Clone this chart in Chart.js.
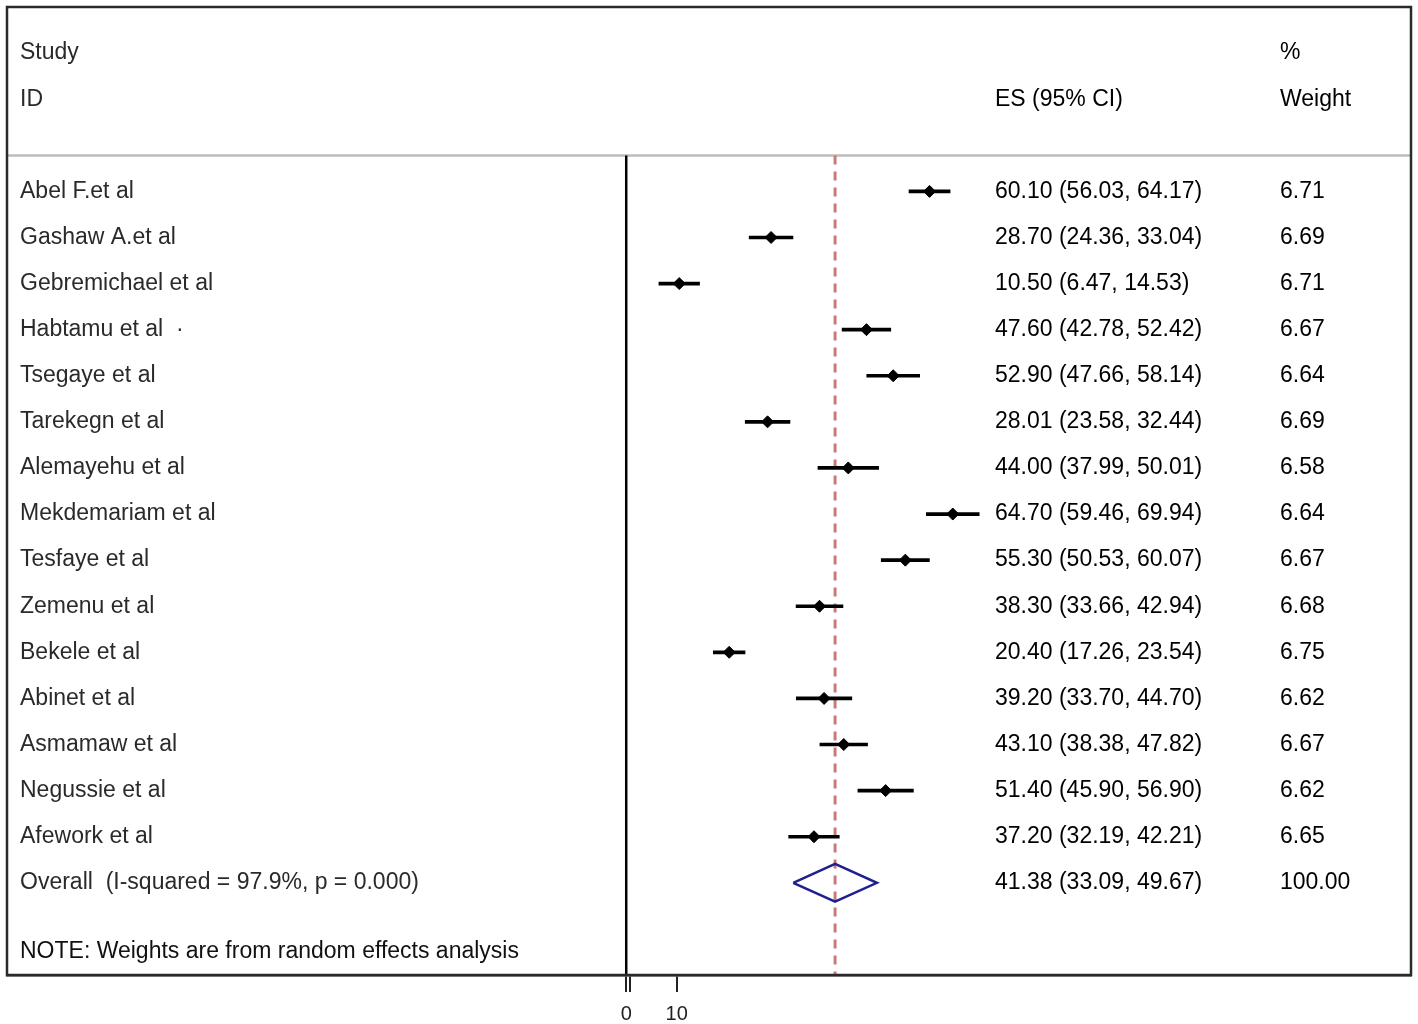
<!DOCTYPE html>
<html>
<head>
<meta charset="utf-8">
<title>Forest plot</title>
<script src="https://cdn.jsdelivr.net/npm/chart.js@4.4.1/dist/chart.umd.min.js"></script>
<style>
    body { margin: 0; background: #fff; }
    canvas { display: block; }
</style>
</head>
<body>
<canvas id="forest-chart" width="1418" height="1024"></canvas>
<script>
// Study data
const studies = ['Abel F.et al', 'Gashaw A.et al', 'Gebremichael et al', 'Habtamu et al  \u00b7', 'Tsegaye et al',
    'Tarekegn et al', 'Alemayehu et al', 'Mekdemariam et al', 'Tesfaye et al', 'Zemenu et al',
    'Bekele et al', 'Abinet et al', 'Asmamaw et al', 'Negussie et al', 'Afework et al'];
const es = [60.10, 28.70, 10.50, 47.60, 52.90, 28.01, 44.00, 64.70, 55.30, 38.30, 20.40, 39.20, 43.10, 51.40, 37.20];
const ciLow = [56.03, 24.36, 6.47, 42.78, 47.66, 23.58, 37.99, 59.46, 50.53, 33.66, 17.26, 33.70, 38.38, 45.90, 32.19];
const ciHigh = [64.17, 33.04, 14.53, 52.42, 58.14, 32.44, 50.01, 69.94, 60.07, 42.94, 23.54, 44.70, 47.82, 56.90, 42.21];
const weights = [6.71, 6.69, 6.71, 6.67, 6.64, 6.69, 6.58, 6.64, 6.67, 6.68, 6.75, 6.62, 6.67, 6.62, 6.65];

const overallLabel = 'Overall  (I-squared = 97.9%, p = 0.000)';
const overall = [41.38, 33.09, 49.67];   // ES, lower, upper
const overallWeight = 100.00;
const noteText = 'NOTE: Weights are from random effects analysis';

const tickValues = [0, 0.8, 10];
const tickLabels = ['0', '', '10'];

// row positions (y scale units, one unit per study row)
const overallRow = studies.length;
const noteRow = studies.length + 1.5;
const headerRows = [-3, -2];
const separatorRow = -0.78;

const textFont = '23px "Liberation Sans", Arial, sans-serif';
const numFont = '23px "Liberation Sans", Arial, sans-serif';

// Frame, header separator and all the text columns
const forestText = {
    id: 'forestText',
    beforeDatasetsDraw(chart) {
        const { ctx, chartArea } = chart;
        const y = chart.scales.y;
        ctx.save();
        ctx.strokeStyle = '#bdbdbd';
        ctx.lineWidth = 2.5;
        ctx.beginPath();
        ctx.moveTo(chartArea.left, y.getPixelForValue(separatorRow));
        ctx.lineTo(chartArea.right, y.getPixelForValue(separatorRow));
        ctx.stroke();
        ctx.restore();
    },
    afterDraw(chart) {
        const { ctx, chartArea } = chart;
        const y = chart.scales.y;
        const colStudy = chartArea.left + 13;
        const colEs = chartArea.left + 988;
        const colWeight = chartArea.left + 1273;

        ctx.save();
        ctx.strokeStyle = '#2a2a2a';
        ctx.lineWidth = 2.5;
        ctx.strokeRect(chartArea.left, chartArea.top, chartArea.width, chartArea.height);

        ctx.textBaseline = 'middle';
        ctx.textAlign = 'left';

        // headers
        ctx.font = textFont;
        ctx.fillStyle = '#2a2a2a';
        ctx.fillText('Study', colStudy, y.getPixelForValue(headerRows[0]));
        ctx.fillText('ID', colStudy, y.getPixelForValue(headerRows[1]));
        ctx.fillStyle = '#000';
        ctx.fillText('ES (95% CI)', colEs, y.getPixelForValue(headerRows[1]));
        ctx.fillText('%', colWeight, y.getPixelForValue(headerRows[0]));
        ctx.fillText('Weight', colWeight, y.getPixelForValue(headerRows[1]));

        // study rows
        studies.forEach((name, i) => {
            const py = y.getPixelForValue(i);
            ctx.font = textFont;
            ctx.fillStyle = '#2a2a2a';
            ctx.fillText(name, colStudy, py);
            ctx.font = numFont;
            ctx.fillStyle = '#000';
            ctx.fillText(`${es[i].toFixed(2)} (${ciLow[i].toFixed(2)}, ${ciHigh[i].toFixed(2)})`, colEs, py);
            ctx.fillText(weights[i].toFixed(2), colWeight, py);
        });

        // overall row
        const oy = y.getPixelForValue(overallRow);
        ctx.font = textFont;
        ctx.fillStyle = '#2a2a2a';
        ctx.fillText(overallLabel, colStudy, oy);
        ctx.font = numFont;
        ctx.fillStyle = '#000';
        ctx.fillText(`${overall[0].toFixed(2)} (${overall[1].toFixed(2)}, ${overall[2].toFixed(2)})`, colEs, oy);
        ctx.fillText(overallWeight.toFixed(2), colWeight, oy);

        // note
        ctx.font = textFont;
        ctx.fillStyle = '#111';
        ctx.fillText(noteText, colStudy, y.getPixelForValue(noteRow));
        ctx.restore();
    }
};

const rows = studies.map((s, i) => i);

new Chart(document.getElementById('forest-chart'), {
    type: 'scatter',
    data: {
        datasets: [
            {
                // point estimates
                data: rows.map(i => ({ x: es[i], y: i })),
                pointStyle: 'rectRot',
                pointRadius: 6,
                backgroundColor: '#000',
                borderColor: '#000',
                borderWidth: 1,
                order: 0
            },
            {
                // confidence intervals as thin floating bars
                type: 'bar',
                indexAxis: 'y',
                data: rows.map(i => ({ y: i, x: [ciLow[i], ciHigh[i]] })),
                backgroundColor: '#000',
                barThickness: 3,
                order: 1
            },
            {
                // overall diamond
                data: [
                    { x: overall[1], y: overallRow },
                    { x: overall[0], y: overallRow - 0.41 },
                    { x: overall[2], y: overallRow },
                    { x: overall[0], y: overallRow + 0.41 },
                    { x: overall[1], y: overallRow }
                ],
                showLine: true,
                borderColor: '#1f1f8f',
                borderWidth: 2.5,
                pointRadius: 0,
                fill: false,
                order: 2
            },
            {
                // overall effect reference line
                data: [{ x: overall[0], y: separatorRow }, { x: overall[0], y: noteRow + 0.5 }],
                showLine: true,
                borderColor: '#c67a7a',
                borderWidth: 3,
                borderDash: [9, 7],
                pointRadius: 0,
                order: 3
            },
            {
                // null line
                data: [{ x: 0, y: separatorRow }, { x: 0, y: noteRow + 0.5 }],
                showLine: true,
                borderColor: '#000',
                borderWidth: 2.5,
                pointRadius: 0,
                order: 4
            }
        ]
    },
    options: {
        responsive: false,
        animation: false,
        layout: { padding: { left: 5, right: 5, top: 5, bottom: 0 } },
        plugins: {
            legend: { display: false },
            tooltip: { enabled: false }
        },
        scales: {
            x: {
                type: 'linear',
                min: -122.7,
                max: 155.5,
                offset: false,
                afterBuildTicks: (scale) => {
                    scale.ticks = tickValues.map(v => ({ value: v }));
                },
                afterFit: (scale) => { scale.height = 49; },
                ticks: {
                    autoSkip: false,
                    maxRotation: 0,
                    padding: 10,
                    color: '#222',
                    font: { family: '"Liberation Sans", Arial, sans-serif', size: 20 },
                    callback: (value) => tickLabels[tickValues.indexOf(value)]
                },
                grid: {
                    offset: false,
                    drawOnChartArea: false,
                    tickLength: 17,
                    color: '#222',
                    lineWidth: 2
                },
                border: { display: true, color: '#222', width: 2.5 }
            },
            y: {
                type: 'linear',
                display: false,
                reverse: true,
                offset: false,
                grid: { offset: false },
                min: -4,
                max: 17
            }
        }
    },
    plugins: [forestText]
});
</script>
</body>
</html>
